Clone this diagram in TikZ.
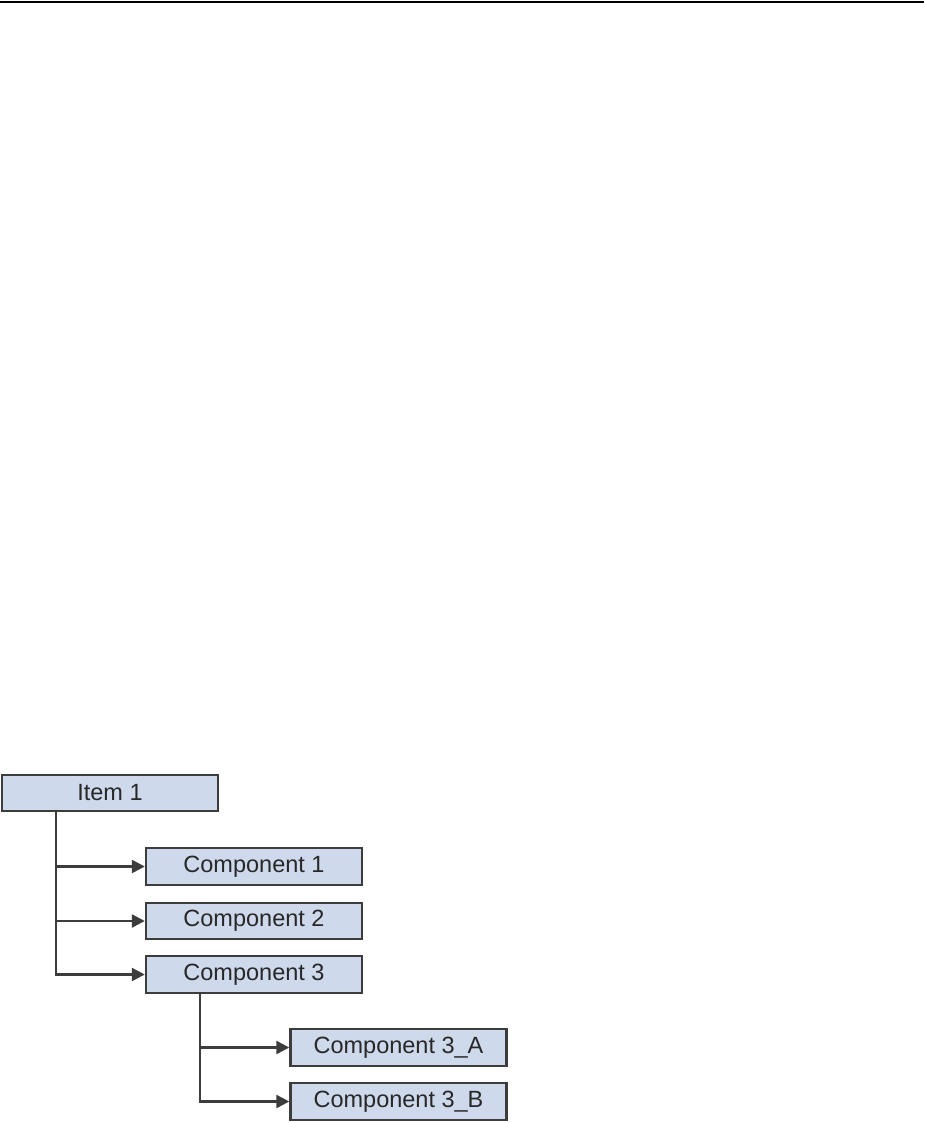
\documentclass[tikz,border=0pt]{standalone}
\usepackage{fontspec}
\setmainfont{Liberation Sans}
\usetikzlibrary{arrows.meta}
\definecolor{boxfill}{RGB}{206,218,236}
\definecolor{boxline}{RGB}{60,60,60}
\definecolor{txt}{RGB}{40,40,40}
\tikzset{
  box/.style={draw=boxline, fill=boxfill, line width=2.4pt, minimum width=216pt, minimum height=36.5pt, inner sep=0pt, text=txt, font=\fontsize{23.5}{26}\selectfont},
  arr/.style={draw=boxline, line width=2.4pt, -{Triangle[length=13pt,width=13pt]}}
}
\begin{document}
\begin{tikzpicture}[x=1pt,y=1pt]
\useasboundingbox (0,0) rectangle (924,-1123);
\draw[line width=1.6pt] (0,-1.8) -- (924,-1.8);
\node[box] (i1) at (110,-793) {Item 1};
\node[box] (c1) at (254,-866.5) {Component 1};
\node[box] (c2) at (254,-921) {Component 2};
\node[box] (c3) at (254,-974.5) {Component 3};
\node[box] (ca) at (398.5,-1047.5) {Component 3\_A};
\node[box] (cb) at (398.5,-1101.5) {Component 3\_B};
\coordinate (s1) at ([xshift=55pt]i1.south west);
\coordinate (s3) at ([xshift=55pt]c3.south west);
\draw[arr] (s1) |- (c1.west);
\draw[arr] (s1) |- (c2.west);
\draw[arr] (s1) |- (c3.west);
\draw[arr] (s3) |- (ca.west);
\draw[arr] (s3) |- (cb.west);
\end{tikzpicture}
\end{document}
